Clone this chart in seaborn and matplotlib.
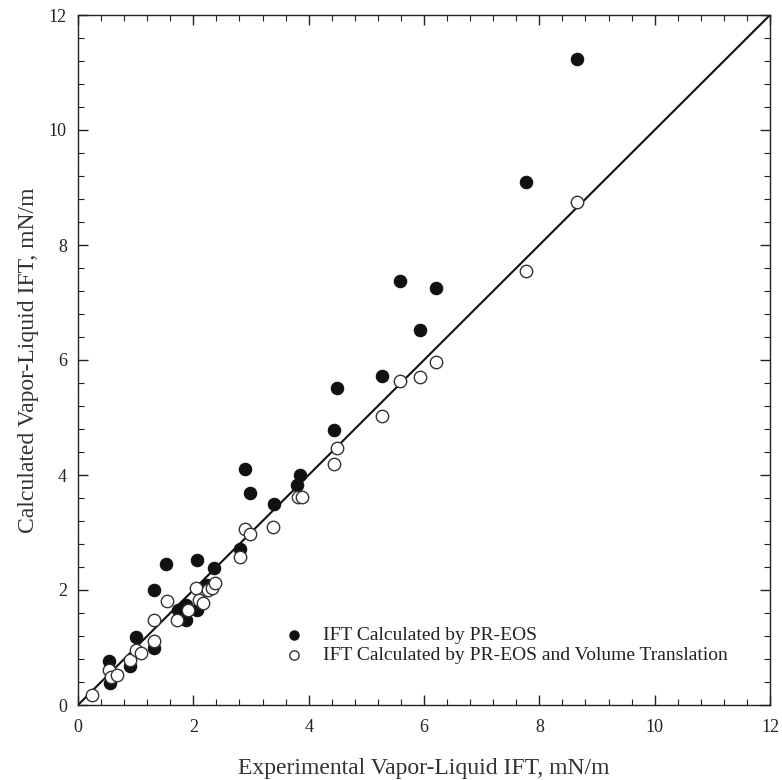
import matplotlib
matplotlib.use("Agg")
import matplotlib.pyplot as plt
import seaborn as sns
import numpy as np
import pandas as pd
from matplotlib.ticker import MultipleLocator

# PR-EOS (filled)
pr_exp = [0.53, 0.55, 0.90, 1.01, 1.31, 1.31, 1.53, 1.74, 1.88, 1.88, 2.06, 2.06, 2.23, 2.36,
          2.81, 2.90, 2.98, 3.40, 3.79, 3.85, 4.44, 4.49, 5.27, 5.58, 5.93, 6.21, 7.77, 8.65]
pr_calc = [0.77, 0.38, 0.67, 1.18, 0.99, 2.00, 2.46, 1.65, 1.48, 1.74, 2.52, 1.65, 2.09, 2.38,
           2.71, 4.10, 3.68, 3.49, 3.83, 4.00, 4.78, 5.51, 5.72, 7.37, 6.52, 7.25, 9.10, 11.23]

# PR-EOS + Volume Translation (open)
vt_exp = [0.24, 0.53, 0.58, 0.67, 0.90, 1.01, 1.09, 1.32, 1.31, 1.54, 1.71, 1.90, 2.05, 2.09,
          2.17, 2.26, 2.32, 2.38, 2.81, 2.90, 2.99, 3.39, 3.82, 3.88, 4.44, 4.49, 5.27, 5.58,
          5.93, 6.21, 7.77, 8.66]
vt_calc = [0.17, 0.61, 0.49, 0.52, 0.78, 0.96, 0.90, 1.12, 1.47, 1.81, 1.48, 1.65, 2.03, 1.83,
           1.77, 2.00, 2.03, 2.13, 2.57, 3.06, 2.97, 3.09, 3.61, 3.61, 4.20, 4.47, 5.03, 5.63,
           5.71, 5.96, 7.55, 8.75]

line_x = [0, 12]
line_y = [0, 12]

label_pr = "IFT Calculated by PR-EOS"
label_vt = "IFT Calculated by PR-EOS and Volume Translation"
xlabel = "Experimental Vapor-Liquid IFT, mN/m"
ylabel = "Calculated Vapor-Liquid IFT, mN/m"

sns.set_style("white")
plt.rcParams['font.family'] = ['Liberation Serif', 'DejaVu Serif']

fig = plt.figure(figsize=(7.82, 7.80), dpi=100)
ax = fig.add_axes([78/782, 1 - 705/780, 692/782, 690/780])

sns.lineplot(x=line_x, y=line_y, ax=ax, color='#111111', lw=1.5, zorder=1)
sns.scatterplot(x=pr_exp, y=pr_calc, ax=ax, color='#111111', edgecolor='#111111',
                s=80, linewidth=0.8, label=label_pr, zorder=3)
sns.scatterplot(x=vt_exp, y=vt_calc, ax=ax, facecolor='white', edgecolor='#333333',
                s=80, linewidth=1.0, label=label_vt, zorder=4)

ax.set_xlim(0, 12)
ax.set_ylim(0, 12)
ax.xaxis.set_major_locator(MultipleLocator(2))
ax.yaxis.set_major_locator(MultipleLocator(2))
ax.xaxis.set_minor_locator(MultipleLocator(0.4))
ax.yaxis.set_minor_locator(MultipleLocator(0.4))
ax.tick_params(which='both', direction='in', top=True, right=True, bottom=True, left=True,
               colors='#222222', labelcolor='#222222', labelsize=13)
ax.tick_params(which='major', length=7, width=1)
ax.tick_params(which='minor', length=4, width=0.8)
ax.tick_params(axis='x', which='major', pad=10)
ax.tick_params(axis='y', which='major', pad=8)
for sp in ax.spines.values():
    sp.set_color('#222222')
    sp.set_linewidth(1.0)
    sp.set_visible(True)

ax.set_xlabel(xlabel, fontsize=17, color='#333333', labelpad=16)
ax.set_ylabel(ylabel, fontsize=17, color='#333333', labelpad=7)

leg = ax.legend(loc='upper left', bbox_to_anchor=(0.287, 0.125), frameon=False,
                fontsize=14, handletextpad=1.0, labelspacing=0.12, borderaxespad=0,
                handlelength=1.0, markerscale=0.75)
for t in leg.get_texts():
    t.set_color('#222222')

fig.savefig("out.png", dpi=100)
